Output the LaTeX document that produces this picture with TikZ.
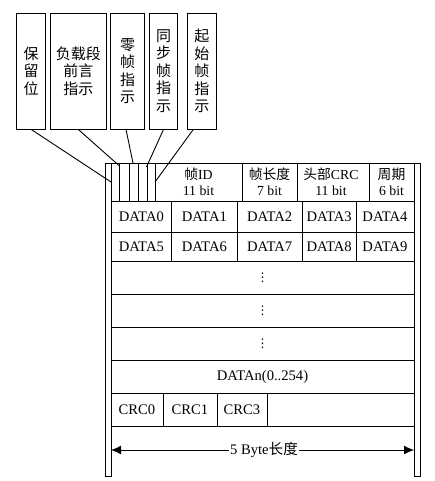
\documentclass[tikz,border=0pt]{standalone}
\usepackage{fontspec}
\setmainfont{Liberation Serif}
\newfontfamily\cjk{Noto Sans CJK SC}
\newfontfamily\sym{DejaVu Sans}
\usetikzlibrary{arrows.meta}
\begin{document}
\begin{tikzpicture}[x=1pt,y=-1pt, line width=0.9pt,
  box/.style={draw, rectangle, inner sep=0pt, font=\cjk\fontsize{15}{17.5}\selectfont, align=center},
  hdr/.style={font=\fontsize{13.8}{16}\selectfont, align=center, inner sep=0pt},
  dat/.style={font=\fontsize{14.6}{16}\selectfont, inner sep=0pt},
  dotn/.style={font=\sym\fontsize{12}{13}\selectfont, inner sep=0pt},
  conn/.style={line width=0.9pt}]
\useasboundingbox (0,0) rectangle (434,481);
% top boxes
\node[box, minimum width=29pt, minimum height=116pt] (b1) at (31.2,71) {保\\留\\位};
\node[box, minimum width=55.3pt, minimum height=116pt] (b2) at (78.3,71) {负载段\\前言\\指示};
\node[box, minimum width=33.6pt, minimum height=116pt] (b3) at (127.5,71) {零\\帧\\指\\示};
\node[box, minimum width=28.4pt, minimum height=116pt] (b4) at (163.5,71) {同\\步\\帧\\指\\示};
\node[box, minimum width=28.3pt, minimum height=116pt] (b5) at (201.8,71) {起\\始\\帧\\指\\示};
% frame
\draw (105,163) rectangle (111,476);
\draw (414,163) rectangle (420,476);
\draw (111,163) -- (414,163);
% grid
\foreach \x in {119,129,138,147,155,242,297,369} \draw (\x,163) -- (\x,201);
\foreach \y in {201,232,261,294,327,360,393,426} \draw (111,\y) -- (414,\y);
\foreach \x in {171.7,237,302.5,356} \draw (\x,201) -- (\x,261);
\foreach \x in {163,217,267} \draw (\x,393) -- (\x,426);
% header text
\node[hdr] (h1) at (198.5,182) {{\cjk 帧}ID\\11 bit};
\node[hdr] (h2) at (269.5,182) {{\cjk 帧长度}\\7 bit};
\node[hdr] (h3) at (331,182) {{\cjk 头部}CRC\\11 bit};
\node[hdr] (h4) at (391.5,182) {{\cjk 周期}\\6 bit};
% data
\node[dat] (d0) at (141.3,216.5) {DATA0};
\node[dat] (d1) at (204.3,216.5) {DATA1};
\node[dat] (d2) at (269.7,216.5) {DATA2};
\node[dat] (d3) at (329.2,216.5) {DATA3};
\node[dat] (d4) at (385,216.5) {DATA4};
\node[dat] (d5) at (141.3,246.5) {DATA5};
\node[dat] (d6) at (204.3,246.5) {DATA6};
\node[dat] (d7) at (269.7,246.5) {DATA7};
\node[dat] (d8) at (329.2,246.5) {DATA8};
\node[dat] (d9) at (385,246.5) {DATA9};
\node[dotn] (v1) at (262.5,278) {⋮};
\node[dotn] (v2) at (262.5,311) {⋮};
\node[dotn] (v3) at (262.5,344) {⋮};
\node[dat] (dn) at (262.5,376.5) {DATAn(0..254)};
\node[dat] (r0) at (137,409.5) {CRC0};
\node[dat] (r1) at (190,409.5) {CRC1};
\node[dat] (r3) at (242,409.5) {CRC3};
% arrow
\coordinate (al) at (111,450);
\coordinate (ar) at (414,450);
\draw[{Latex[length=10pt,width=9pt]}-{Latex[length=10pt,width=9pt]}] (al) -- (ar);
\node[dat, fill=white, inner xsep=1pt] (len) at (264,450) {5 Byte{\cjk 长度}};
% connectors
\coordinate (c1) at (111,182);
\coordinate (c2) at (119.5,166);
\coordinate (c3) at (133,163);
\coordinate (c4) at (146.5,167);
\coordinate (c5) at (155,182);
\draw[conn] (b1.south) -- (c1);
\draw[conn] (b2.south) -- (c2);
\draw[conn] ([xshift=-1.5pt]b3.south) -- (c3);
\draw[conn] (b4.south) -- (c4);
\draw[conn] ([xshift=-8.5pt]b5.south) -- (c5);
\end{tikzpicture}
\end{document}
